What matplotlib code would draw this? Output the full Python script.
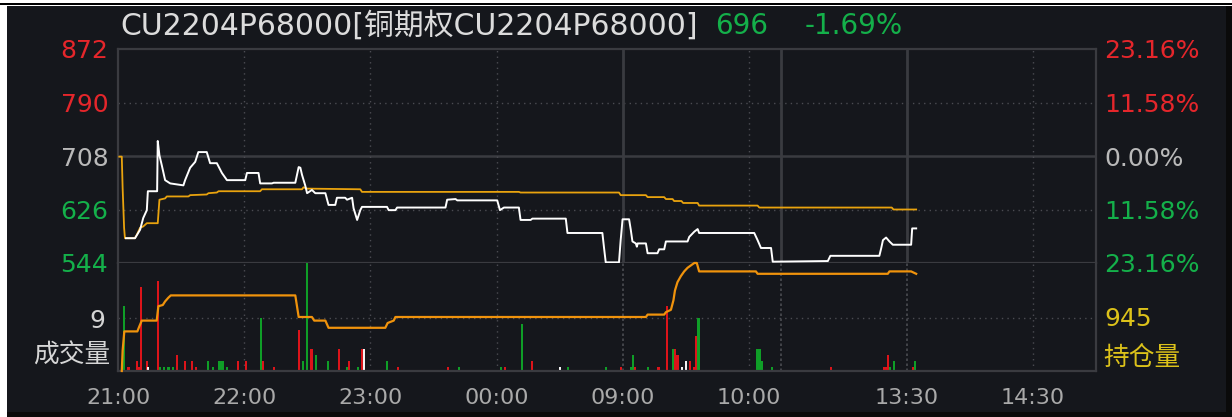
import matplotlib
matplotlib.use('Agg')
import matplotlib.pyplot as plt
from matplotlib.patches import Rectangle

plt.rcParams['font.family'] = ['DejaVu Sans', 'Noto Sans CJK SC']

# ---------------- data ----------------
title_text = 'CU2204P68000[铜期权CU2204P68000]'
last_price_text = '696'
change_text = '-1.69%'

time_tick_pos = [0, 60, 120, 180, 240, 300, 375, 435]
time_tick_labels = ['21:00', '22:00', '23:00', '00:00', '09:00', '10:00', '13:30', '14:30']
session_breaks = [240, 315, 375]
hour_lines = [60, 120, 180, 300, 435]
total_minutes = 465

price_levels = [544, 626, 708, 790, 872]
price_labels = ['544', '626', '708', '790', '872']
pct_labels = ['23.16%', '11.58%', '0.00%', '11.58%', '23.16%']
level_colors = ['#14b04a', '#14b04a', '#b9b9b9', '#e5262b', '#e5262b']

# price line (minute offset, price)
price_min = [3.8, 8.1, 10.5, 12.0, 13.7, 14.2, 18.6, 18.9, 19.7, 20.8, 22.4, 24.8, 31.1, 31.9,
             34.3, 36.7, 38.2, 42.2, 43.8, 47.0, 49.4, 51.8, 60.5, 61.3, 66.8, 67.6, 73.2, 74.0,
             84.3, 85.9, 86.7, 87.5, 89.0, 89.9, 92.2, 93.8, 98.6, 100.1, 103.3, 104.1, 108.0,
             108.9, 111.3, 112.0, 113.7, 115.2, 116.0, 127.9, 128.7, 131.9, 132.7, 155.7, 156.5,
             160.5, 161.3, 180.3, 181.6, 183.5, 190.6, 191.4, 196.2, 197.0, 212.9, 213.7, 230.3,
             231.1, 231.9, 238.2, 239.0, 239.9, 243.0, 243.8, 244.6, 246.2, 246.7, 247.1, 251.0,
             251.8, 256.5, 257.3, 259.7, 260.5, 270.8, 271.6, 274.0, 275.6, 276.3, 302.5, 304.1,
             305.7, 310.5, 311.3, 337.5, 338.7, 362.0, 362.9, 363.7, 365.2, 366.8, 368.4, 377.1,
             377.6, 379.5]
price_val = [582, 582, 595, 613, 625, 654, 654, 731, 709, 694, 671, 666, 663, 671,
             690, 699, 714, 714, 697, 697, 682, 671, 671, 682, 682, 666, 666, 667,
             667, 691, 690, 679, 663, 651, 656, 651, 651, 633, 633, 644, 644,
             641, 644, 628, 610, 625, 630, 630, 625, 625, 629, 629, 641,
             642, 640, 640, 625, 629, 629, 610, 610, 612, 612, 590, 590,
             567, 545, 545, 579, 611, 611, 595, 577, 574, 569, 574, 574,
             559, 559, 565, 565, 577, 577, 584, 592, 596, 590, 590, 579,
             567, 567, 546, 547, 555, 555, 567, 579, 583, 577, 572, 572,
             597, 597]

# average price line
avg_min = [0.6, 1.8, 2.2, 2.9, 3.3, 8.0, 8.9, 10.5, 12.0, 13.7, 18.9, 19.7, 22.4, 23.2, 33.5,
           34.3, 42.2, 43.0, 47.0, 47.8, 67.6, 68.4, 87.5, 88.2, 89.9, 115.2, 116.0, 190.6,
           191.4, 238.2, 239.0, 251.0, 251.8, 259.7, 260.5, 263.7, 264.4, 267.9, 268.7, 275.6,
           276.3, 304.1, 304.9, 367.9, 368.7, 379.5]
avg_val = [707, 707, 659, 598, 582, 582, 587, 598, 600, 605, 605, 641, 643, 646, 646,
           648, 649, 651, 652, 654, 654, 657, 657, 660, 658, 657, 653, 653,
           652, 652, 648, 648, 645, 645, 642, 642, 639, 639, 636, 636,
           632, 632, 629, 629, 626, 626]

# open interest (持仓量)
oi_min = [1.8, 2.2, 3.0, 9.2, 10.1, 11.3, 18.4, 19.2, 21.3, 22.4, 23.9, 25.1, 84.3, 85.1, 85.9,
          92.2, 93.3, 98.6, 100.1, 127.1, 128.2, 131.1, 131.9, 251.0, 251.8, 259.7, 260.5,
          262.9, 264.1, 264.8, 266.0, 267.6, 269.2, 270.8, 272.4, 274.0, 275.2, 276.3, 303.3,
          304.1, 366.0, 366.8, 377.1, 379.5]
oi_val = [900, 917, 933, 933, 937, 942, 942, 954, 955, 958, 961, 963, 963, 954, 945,
          945, 942, 942, 936, 936, 940, 942, 945, 945, 947, 947, 949,
          951, 959, 967, 974, 979, 983, 986, 988, 990, 990, 983, 983,
          981, 981, 983, 983, 981]
oi_mid_label = '945'
oi_range = (900, 990)

# volume (成交量): minute offset, volume, direction r=up g=down w=flat
vol_min = [3, 5, 9, 10, 11, 14, 14.4, 19, 20, 22, 24, 26, 28, 32, 35, 37, 43, 45, 48, 49, 50, 52,
           57, 61, 68, 69, 74, 86, 88, 90, 92, 94, 100, 105, 109, 110, 114, 116, 117, 128, 133,
           157, 162, 182, 184, 192, 197, 210, 214, 232, 239, 244, 245, 246, 252, 257, 261, 264,
           265, 266, 268, 270, 272, 274, 275, 276, 304, 305, 306, 311, 339, 364, 365, 366, 367,
           369, 378, 379]
vol_val = [11, 1, 2, 1, 14, 2, 1, 15, 1, 1, 1, 1, 3, 2, 2, 1, 2, 1, 2, 2, 2, 1,
           2, 2, 9, 2, 1, 7, 2, 18, 4, 3, 2, 4, 1, 2, 1, 4, 4, 2, 1,
           1, 1, 1, 1, 8, 2, 1, 1, 1, 1, 1, 3, 1, 1, 1, 11, 4,
           4, 3, 1, 2, 2, 1, 6, 9, 4, 4, 2, 1, 1, 1, 1, 3, 1,
           2, 1, 2]
vol_dir = ['g', 'r', 'r', 'r', 'r', 'r', 'w', 'r', 'g', 'g', 'g', 'g', 'r', 'r', 'r', 'r', 'g', 'g',
           'g', 'g', 'g', 'g', 'r', 'r', 'g', 'r', 'r', 'r', 'g', 'g', 'r', 'g', 'g', 'r', 'g', 'r',
           'g', 'r', 'w', 'g', 'r', 'r', 'g', 'g', 'r', 'g', 'r', 'w', 'g', 'g', 'r', 'g', 'g', 'r',
           'g', 'r', 'r', 'g', 'r', 'r', 'w', 'w', 'r', 'r', 'r', 'g', 'g', 'g', 'g', 'g', 'r', 'r',
           'r', 'r', 'g', 'g', 'r', 'g']
vol_mid_label = '9'
vol_range = (0.35, 18)

# ---------------- style ----------------
W, H = 1232, 417
BG = '#15171c'
GRID = '#3a3b40'
DOT = '#4b4c52'
RED = '#e5262b'
GREEN = '#14b04a'
BAR_COLORS = {'r': '#dc141a', 'g': '#0f9e27', 'w': '#f2f2f2'}


def box(x0, y0, x1, y1):
    return [x0 / W, 1 - y1 / H, (x1 - x0) / W, (y1 - y0) / H]


fig = plt.figure(figsize=(W / 100, H / 100), dpi=100, facecolor='white')
for (x0, y0, x1, y1, c) in [(0, 3, W, 5, 'black'), (7, 6, 1226, 411.5, BG),
                            (1226, 6, W, H, '#0a0a0a'), (7, 411.5, W, H, '#0a0a0a')]:
    fig.add_artist(Rectangle((x0 / W, 1 - y1 / H), (x1 - x0) / W, (y1 - y0) / H,
                             transform=fig.transFigure, color=c, zorder=-5, lw=0))

ax = fig.add_axes(box(118, 49, 1096, 263))
axb = fig.add_axes(box(118, 263, 1096, 371), sharex=ax)
for a in (ax, axb):
    a.set_facecolor(BG)
    for s in a.spines.values():
        s.set_color(GRID)
        s.set_linewidth(1.6)
axb.spines['top'].set_visible(False)
ax.set_xlim(0, total_minutes)
ax.set_ylim(price_levels[0], price_levels[-1])

# grid lines
for lv in price_levels[1:-1]:
    if lv == 708:
        ax.axhline(lv, color=GRID, lw=1.8, zorder=1)
    else:
        ax.axhline(lv, color=DOT, lw=1.0, ls=(0, (1, 3)), zorder=1)
for m in hour_lines:
    ax.axvline(m, color=DOT, lw=1.0, ls=(0, (1, 3)), zorder=1)
    axb.axvline(m, color=DOT, lw=1.0, ls=(0, (1, 3)), zorder=1)
for m in session_breaks:
    ax.axvline(m, color=GRID, lw=2.0, zorder=1)
    axb.axvline(m, color=DOT, lw=1.2, ls=(0, (1.5, 1.5)), zorder=1)

# price + average
ax.plot(avg_min, avg_val, color='#e9a30e', lw=1.3, zorder=3)
ax.plot(price_min, price_val, color='white', lw=1.4, zorder=4)

# y ticks (left price / right percent)
ax.set_yticks(price_levels)
ax.set_yticklabels(price_labels)
ax.tick_params(axis='y', length=0, pad=7, labelsize=18)
ax.tick_params(axis='x', length=0, labelbottom=False)
for lbl, c in zip(ax.get_yticklabels(), level_colors):
    lbl.set_color(c)
axr = ax.twinx()
axr.set_ylim(ax.get_ylim())
axr.set_yticks(price_levels)
axr.set_yticklabels(pct_labels)
axr.tick_params(axis='y', length=0, pad=6, labelsize=18)
for s in axr.spines.values():
    s.set_visible(False)
for lbl, c in zip(axr.get_yticklabels(), level_colors):
    lbl.set_color(c)

# volume panel
axb.set_ylim(*vol_range)
axb.axhline(9, color=DOT, lw=1.0, ls=(0, (1, 3)), zorder=1)
axb.bar(vol_min, vol_val, width=1.0, bottom=0,
        color=[BAR_COLORS[d] for d in vol_dir], lw=0, zorder=2)
axb.set_yticks([9])
axb.set_yticklabels([vol_mid_label])
axb.tick_params(axis='y', length=0, pad=9, labelsize=18, labelcolor='#d4d4d4')
axb.set_xticks(time_tick_pos)
axb.set_xticklabels(time_tick_labels)
axb.tick_params(axis='x', length=0, pad=12, labelsize=16, labelcolor='#a9a9a9')
axb.text(-0.008, 0.14, '成交量', transform=axb.transAxes, ha='right', va='center',
         fontsize=18.5, color='#d6d6d6')

axbr = axb.twinx()
axbr.set_ylim(*oi_range)
axbr.plot(oi_min, oi_val, color='#f0930c', lw=1.6, zorder=3, clip_on=False)
axbr.set_yticks([945])
axbr.set_yticklabels([oi_mid_label])
axbr.tick_params(axis='y', length=0, pad=6, labelsize=18, labelcolor='#dcc21a')
for s in axbr.spines.values():
    s.set_visible(False)
axbr.text(1.007, 0.12, '持仓量', transform=axbr.transAxes, ha='left', va='center',
          fontsize=18.5, color='#dcc21a')

# header
fig.text(120 / W, 1 - 26 / H, title_text, ha='left', va='center', fontsize=21.5, color='#dcdcdc')
fig.text(715 / W, 1 - 26 / H, last_price_text, ha='left', va='center', fontsize=20, color=GREEN)
fig.text(805 / W, 1 - 26 / H, change_text, ha='left', va='center', fontsize=20, color=GREEN)

fig.savefig('out.png', dpi=100, facecolor=fig.get_facecolor())
